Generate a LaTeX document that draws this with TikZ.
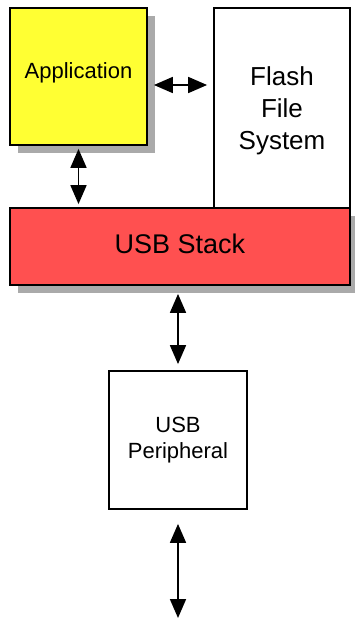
\documentclass[tikz,border=0pt]{standalone}
\usepackage{fontspec}
\setmainfont{Liberation Sans}
\usetikzlibrary{arrows.meta,shadows}
\definecolor{appyellow}{HTML}{FFFF33}
\definecolor{stackred}{HTML}{FF5050}
\definecolor{shadowgray}{HTML}{AAAAAA}
\tikzset{
  blk/.style={draw=black, line width=1.8pt, inner sep=0pt, align=center},
  lbl/.style={inner sep=0pt, align=center},
  shad/.style={drop shadow={shadow xshift=8pt, shadow yshift=-8pt, fill=shadowgray, opacity=1}},
  arr/.style={line width=1.8pt, {Triangle[length=19pt,width=16pt]}-{Triangle[length=19pt,width=16pt]}}
}
\begin{document}
\begin{tikzpicture}[x=1pt,y=-1pt]
\useasboundingbox (0,0) rectangle (355,619);
\node[blk, shad, fill=stackred, minimum width=340pt, minimum height=77pt] (stack) at (180,246.5) {};
\node[lbl, font=\fontsize{27}{32}\selectfont] (stacklabel) at (180,244) {USB Stack};
\node[blk, fill=white, minimum width=136pt, minimum height=200pt] (flash) at (282,108) {};
\node[lbl, font=\fontsize{26}{32}\selectfont] (flashlabel) at (282,111) {Flash\\File\\System};
\node[blk, shad, fill=appyellow, minimum width=137pt, minimum height=137pt] (app) at (78.5,76.5) {};
\node[lbl, font=\fontsize{22}{26}\selectfont] (applabel) at (78.5,73) {Application};
\node[blk, fill=white, minimum width=138pt, minimum height=138pt,
      font=\fontsize{22}{26}\selectfont] (per) at (178,440) {USB\\Peripheral};
\coordinate (out) at (178,618);
\draw[arr] ([shift={(6pt,-8.5pt)}]app.east) -- ([shift={(-6pt,-8.5pt)}]app.east -| flash.west);
\draw[arr, shorten <=3pt, shorten >=3pt] (app.south) -- (app.south |- stack.north);
\draw[arr, shorten <=8pt, shorten >=6pt] (per.north |- stack.south) -- (per.north);
\draw[arr, shorten <=14pt] (per.south) -- (out);
\end{tikzpicture}
\end{document}
